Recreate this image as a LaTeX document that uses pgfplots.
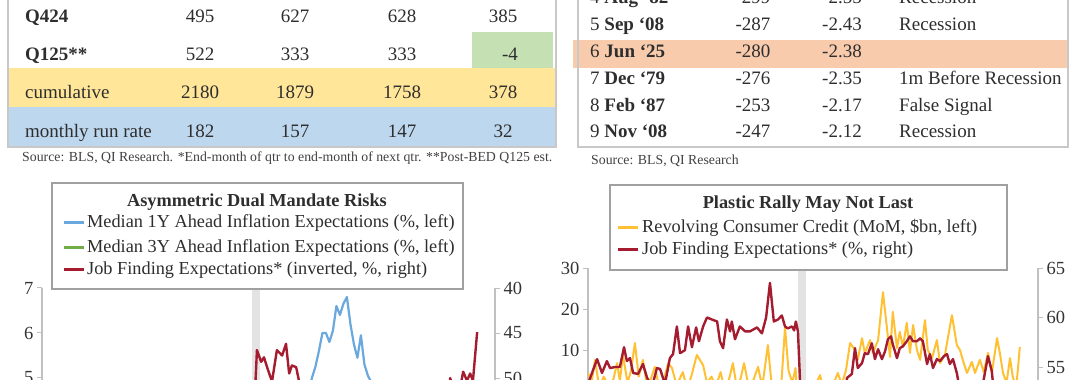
\documentclass[border=0pt]{standalone}
\usepackage{fontspec}
\setmainfont{Liberation Serif}
\usepackage{pgfplots}
\pgfplotsset{compat=1.18}
\usepackage{pgfplotstable}
\definecolor{ink}{HTML}{2E2E2E}
\definecolor{srcink}{HTML}{404040}
\definecolor{tickink}{HTML}{333333}
\definecolor{yband}{HTML}{FFE699}
\definecolor{bband}{HTML}{BDD7EE}
\definecolor{gcell}{HTML}{C5E0B3}
\definecolor{oband}{HTML}{F8CBAD}
\definecolor{tborder}{HTML}{C8C8C8}
\definecolor{axgrey}{HTML}{C0C0C0}
\definecolor{lgborder}{HTML}{A0A0A0}
\definecolor{recband}{HTML}{E3E3E3}
\definecolor{lblue}{HTML}{6AA8DE}
\definecolor{lgreen}{HTML}{70AD47}
\definecolor{dred}{HTML}{A51C30}
\definecolor{lyellow}{HTML}{FFC133}
\newcommand\fs{\fontsize{19}{22}\selectfont}
\newcommand\fsl{\fontsize{18.3}{21}\selectfont}
\newcommand\fstk{\fontsize{18.5}{21}\selectfont}
\newcommand\fsrc{\fontsize{13.8}{15}\selectfont}

\pgfplotstableread{
m v
1.0 53.3
3.6 55.8
5.0 54.4
6.4 55.6
7.3 54.9
8.7 55.0
10.1 55.0
11.3 57.0
12.1 55.6
13.0 55.9
13.9 54.4
15.3 54.3
16.7 55.3
17.9 53.9
19.3 53.0
20.7 54.9
21.6 54.8
23.0 53.3
24.4 55.9
25.3 56.3
26.4 59.1
27.3 56.4
28.7 56.7
29.6 59.1
30.7 57.0
31.9 59.0
32.7 57.6
33.9 59.1
35.0 60.0
36.4 59.8
37.9 59.6
38.7 57.6
39.6 56.9
40.7 59.8
41.6 58.6
42.1 59.6
43.0 57.8
44.4 59.1
45.9 58.6
47.3 58.6
49.3 59.0
50.7 58.4
51.9 60.0
53.0 63.5
54.1 59.6
55.3 59.8
56.4 60.2
57.3 59.1
58.1 58.9
59.3 59.1
59.9 58.7
60.4 59.6
61.0 58.6
62.4 46.9
63.6 48.2
64.4 47.7
65.3 48.8
66.7 50.4
68.1 46.9
69.6 47.5
70.7 46.2
71.6 49.5
72.4 48.6
73.6 48.8
74.4 50.3
75.0 53.9
76.4 54.3
77.3 56.9
78.1 54.9
79.3 55.4
80.1 56.4
81.0 56.3
82.1 57.4
83.0 55.8
83.9 56.8
85.0 55.8
85.9 56.6
86.7 57.8
87.6 58.1
88.1 57.3
89.3 55.9
90.1 56.9
91.0 57.1
92.1 57.6
93.0 58.1
93.9 57.6
95.0 57.6
95.9 57.9
96.7 57.6
97.9 55.3
98.7 56.3
99.6 54.9
100.7 55.8
101.6 55.6
102.7 56.1
103.6 56.3
104.4 55.3
105.3 55.8
106.4 54.4
107.3 52.6
108.5 53.0
110.0 52.2
111.5 52.8
112.5 52.0
113.6 52.8
115.3 56.1
116.4 54.6
117.6 50.0
118.6 51.5
119.6 50.8
120.5 51.0
121.3 49.3
122.4 50.3
123.3 49.5
124.1 50.3
125.3 44.9
}\jobfind

\pgfplotstableread{
m v
75.0 4.0
77.1 4.6
78.1 5.0
79.1 5.25
80.1 5.6
81.1 6.0
82.1 6.0
83.1 5.8
84.1 6.05
85.1 6.6
86.1 6.4
87.1 6.65
88.1 6.8
89.1 6.2
90.1 5.75
91.1 5.45
92.1 5.95
93.1 5.3
94.1 5.05
95.1 4.9
96.1 4.5
98.0 4.0
}\infl

\pgfplotstableread{
m v
1.0 4.4
2.0 2.0
3.0 7.6
4.2 1.0
5.5 3.5
7.0 1.0
8.3 3.0
9.3 6.8
10.1 2.5
11.0 8.7
12.3 2.0
13.3 5.0
14.4 11.7
15.5 3.5
16.7 7.6
17.8 1.5
19.0 3.0
20.1 5.9
21.3 1.0
22.6 2.5
23.9 6.8
25.0 5.6
26.3 1.5
27.2 3.0
28.1 4.6
29.3 0.5
30.5 3.5
32.1 8.8
33.9 6.3
35.0 2.0
36.3 3.5
37.5 1.0
38.9 4.6
40.0 0.5
41.2 2.5
42.4 6.8
43.5 1.0
44.6 3.0
45.6 6.8
46.8 1.5
48.2 2.5
49.6 5.9
50.8 1.0
52.4 11.2
53.6 0.5
55.0 2.0
56.2 1.0
57.3 15.5
58.3 5.0
59.4 2.0
60.3 5.6
61.3 -8.0
62.3 -28.0
63.3 -12.0
64.3 -2.0
65.3 0.5
66.3 2.0
67.3 3.9
68.3 0.0
69.5 2.0
70.6 1.0
71.5 2.5
72.4 4.4
73.5 1.5
74.7 5.0
75.9 11.7
77.3 10.0
78.1 7.6
79.3 12.9
80.1 9.3
81.6 12.4
82.4 9.3
83.9 12.4
85.3 24.1
86.4 15.6
87.3 8.3
88.1 19.3
89.3 10.5
90.1 14.4
91.0 10.7
92.1 16.6
93.0 9.3
93.9 16.1
95.0 10.0
95.9 7.6
97.3 17.3
98.1 10.0
99.3 8.0
100.7 12.4
101.6 6.8
103.0 8.8
105.0 18.5
106.4 11.2
107.3 10.0
108.1 7.6
109.3 4.4
110.7 7.1
111.6 4.4
113.0 7.6
114.1 4.6
115.3 9.3
116.4 4.4
117.9 12.9
118.7 9.3
119.6 4.4
120.6 2.0
121.6 8.0
122.4 3.4
123.4 1.0
124.4 10.7
}\revolv

\pgfplotsset{
  qi/.style={
    scale only axis,
    tick label style={font=\fstk, text=tickink},
    /pgf/number format/assume math mode=true,
    axis line style={draw=axgrey, line width=1.3pt},
    tick style={draw=axgrey, line width=1pt},
    major tick length=5pt,
    tick align=outside,
    xtick=\empty,
  },
}

\begin{document}
\begin{tikzpicture}[x=1pt,y=1pt]
\useasboundingbox (0,0) rectangle (1080,380);
\begin{scope}
\clip (0,0) rectangle (1080,380);

% ---------------- left table ----------------
\fill[yband] (8,273) rectangle (556,312);
\fill[bband] (8,233) rectangle (556,273);
\fill[gcell] (472,312) rectangle (553,348);
\draw[tborder, line width=1.5pt] (8,400) -- (8,233) -- (556,233) -- (556,400);
\begin{scope}[every node/.style={font=\fs, text=ink, inner sep=0pt}]
\node[anchor=base west, font=\fs\bfseries] at (25,357) {Q424};
\node[anchor=base west, font=\fs\bfseries] at (25,319) {Q125**};
\node[anchor=base west] at (25,281) {cumulative};
\node[anchor=base west] at (25,242) {monthly run rate};
\node[anchor=base] at (200,357) {495};
\node[anchor=base] at (295,357) {627};
\node[anchor=base] at (402,357) {628};
\node[anchor=base] at (503,357) {385};
\node[anchor=base] at (200,319) {522};
\node[anchor=base] at (295,319) {333};
\node[anchor=base] at (402,319) {333};
\node[anchor=base] at (510,319) {-4};
\node[anchor=base] at (200,281) {2180};
\node[anchor=base] at (295,281) {1879};
\node[anchor=base] at (402,281) {1758};
\node[anchor=base] at (503,281) {378};
\node[anchor=base] at (200,242) {182};
\node[anchor=base] at (295,242) {157};
\node[anchor=base] at (402,242) {147};
\node[anchor=base] at (503,242) {32};
\end{scope}
\node[anchor=base west, font=\fsrc, text=srcink, inner sep=0pt] at (22,218)
  {Source: BLS, QI Research. *End-month of qtr to end-month of next qtr. **Post-BED Q125 est.};

% ---------------- right table ----------------
\fill[oband] (573,312) rectangle (1068,340);
\draw[tborder, line width=1.5pt] (578,400) -- (578,233) -- (1068,233) -- (1068,400);
\begin{scope}[every node/.style={font=\fs, text=ink, inner sep=0pt}]
\node[anchor=base west] at (590,376) {4 \textbf{Aug `82}};
\node[anchor=base west] at (590,349) {5 \textbf{Sep `08}};
\node[anchor=base west] at (590,322) {6 \textbf{Jun `25}};
\node[anchor=base west] at (590,295) {7 \textbf{Dec `79}};
\node[anchor=base west] at (590,268) {8 \textbf{Feb `87}};
\node[anchor=base west] at (590,242) {9 \textbf{Nov `08}};
\node[anchor=base] at (753,376) {-299};
\node[anchor=base] at (753,349) {-287};
\node[anchor=base] at (753,322) {-280};
\node[anchor=base] at (753,295) {-276};
\node[anchor=base] at (753,268) {-253};
\node[anchor=base] at (753,242) {-247};
\node[anchor=base] at (842,376) {-2.55};
\node[anchor=base] at (842,349) {-2.43};
\node[anchor=base] at (842,322) {-2.38};
\node[anchor=base] at (842,295) {-2.35};
\node[anchor=base] at (842,268) {-2.17};
\node[anchor=base] at (842,242) {-2.12};
\node[anchor=base west] at (899,376) {Recession};
\node[anchor=base west] at (899,349) {Recession};
\node[anchor=base west] at (899,295) {1m Before Recession};
\node[anchor=base west] at (899,268) {False Signal};
\node[anchor=base west] at (899,242) {Recession};
\end{scope}
\node[anchor=base west, font=\fsrc, text=srcink, inner sep=0pt] at (591,215)
  {Source: BLS, QI Research};

% ---------------- left chart ----------------
\begin{axis}[qi, at={(42pt,-133pt)}, anchor=south west,
  width=453pt, height=225pt, xmin=1, xmax=130.4,
  ymin=2, ymax=7, ytick={2,3,...,7},
  axis y line*=left, axis x line*=bottom]
  \addplot[draw=none, fill=recband, forget plot] coordinates {(60.9,2) (60.9,7) (63.3,7) (63.3,2)} -- cycle;
  \addplot[lblue, line width=2.2pt, line join=round] table[x=m,y=v] {\infl};
\end{axis}
\begin{axis}[qi, at={(42pt,-133pt)}, anchor=south west,
  width=453pt, height=225pt, xmin=1, xmax=130.4,
  ymin=40, ymax=65, ytick={40,45,...,65}, y dir=reverse,
  axis y line*=right, axis x line=none]
  \addplot[dred, line width=2.4pt, line join=round] table[x=m,y=v] {\jobfind};
\end{axis}

% ---------------- right chart ----------------
\begin{axis}[qi, at={(588pt,-93pt)}, anchor=south west,
  width=450pt, height=205pt, xmin=1, xmax=129.6,
  ymin=-20, ymax=30, ytick={-20,-10,...,30},
  axis y line*=left, axis x line*=bottom]
  \addplot[draw=none, fill=recband, forget plot] coordinates {(60.9,-20) (60.9,30) (63.3,30) (63.3,-20)} -- cycle;
  \addplot[lyellow, line width=2pt, line join=round] table[x=m,y=v] {\revolv};
\end{axis}
\begin{axis}[qi, at={(588pt,-93pt)}, anchor=south west,
  width=450pt, height=205pt, xmin=1, xmax=129.6,
  ymin=44.3, ymax=65, ytick={45,50,...,65},
  axis y line*=right, axis x line=none]
  \addplot[dred, line width=2.4pt, line join=round] table[x=m,y=v] {\jobfind};
\end{axis}

% ---------------- legends ----------------
\draw[lgborder, line width=1.5pt, fill=white] (52,91) rectangle (463,197);
\node[anchor=base, font=\fsl\bfseries, text=ink, inner sep=0pt] at (257,173) {Asymmetric Dual Mandate Risks};
\draw[lblue, line width=3pt] (64,157) -- (84,157);
\node[anchor=base west, font=\fsl, text=ink, inner sep=0pt] at (87,152) {Median 1Y Ahead Inflation Expectations (\%, left)};
\draw[lgreen, line width=3pt] (64,132) -- (84,132);
\node[anchor=base west, font=\fsl, text=ink, inner sep=0pt] at (87,127) {Median 3Y Ahead Inflation Expectations (\%, left)};
\draw[dred, line width=3pt] (64,110) -- (84,110);
\node[anchor=base west, font=\fsl, text=ink, inner sep=0pt] at (87,105) {Job Finding Expectations* (inverted, \%, right)};

\draw[lgborder, line width=1.5pt, fill=white] (610,110) rectangle (1007,195);
\node[anchor=base, font=\fsl\bfseries, text=ink, inner sep=0pt] at (808,171) {Plastic Rally May Not Last};
\draw[lyellow, line width=3pt] (618,152) -- (638,152);
\node[anchor=base west, font=\fsl, text=ink, inner sep=0pt] at (642,147) {Revolving Consumer Credit (MoM, \$bn, left)};
\draw[dred, line width=3pt] (618,130) -- (638,130);
\node[anchor=base west, font=\fsl, text=ink, inner sep=0pt] at (642,125) {Job Finding Expectations* (\%, right)};

\end{scope}
\end{tikzpicture}
\end{document}
